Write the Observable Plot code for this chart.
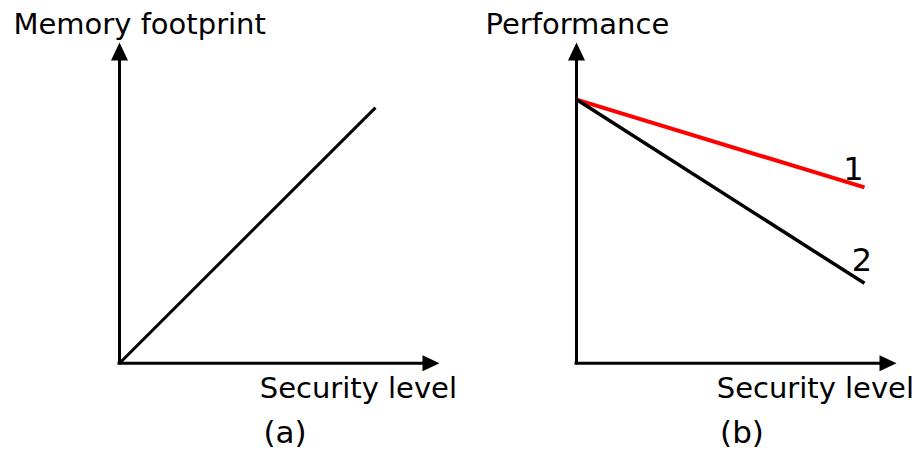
<!DOCTYPE html>
<html>
<head>
<meta charset="utf-8">
<script src="https://cdn.jsdelivr.net/npm/d3@7"></script>
<script src="https://cdn.jsdelivr.net/npm/@observablehq/plot@0.6"></script>
<style>
  html, body { margin: 0; padding: 0; background: #fff; }
</style>
</head>
<body>
<div id="chart"></div>
<script>
// ---- data ----
const panels = ["(a)", "(b)"];
const yTitles = ["Memory footprint", "Performance"];
const xTitle = "Security level";

// straight-line series (start and end values in abstract units 0..1)
const seriesPanel = ["(a)", "(b)", "(b)"];
const seriesName = ["", "1", "2"];
const seriesX0 = [0, 0, 0];
const seriesY0 = [0, 0.822, 0.822];
const seriesX1 = [0.80, 0.90, 0.90];
const seriesY1 = [0.797, 0.548, 0.249];
const seriesColor = ["black", "red", "black"];
const seriesWidth = [3, 4, 3.5];

// ---- build tables ----
const panelRows = panels.map((p, i) => ({panel: p, ytitle: yTitles[i]}));
const series = seriesPanel.map((p, i) => ({
  panel: p, name: seriesName[i], x0: seriesX0[i], y0: seriesY0[i],
  x1: seriesX1[i], y1: seriesY1[i], color: seriesColor[i], width: seriesWidth[i]
}));

const font = "DejaVu Sans";
const fs = 29;

// filled arrowheads as custom symbols (tip at anchor point)
const arrowUp = {draw(ctx) { ctx.moveTo(0, 0); ctx.lineTo(-8.5, 18); ctx.lineTo(8.5, 18); ctx.closePath(); }};
const arrowRight = {draw(ctx) { ctx.moveTo(0, 0); ctx.lineTo(-17, -8); ctx.lineTo(-17, 8); ctx.closePath(); }};

const chart = Plot.plot({
  width: 917,
  height: 458,
  marginLeft: 118,
  marginRight: 20,
  marginTop: 42,
  marginBottom: 95.3,
  style: {background: "white", color: "black"},
  fx: {domain: panels, paddingInner: 0.2991, paddingOuter: 0, axis: null},
  x: {domain: [0, 1], axis: null},
  y: {domain: [0, 1], axis: null},
  marks: [
    // axes
    Plot.ruleX(panelRows, {fx: "panel", x: 0, y1: 0, y2: 0.97, stroke: "black", strokeWidth: 3, strokeLinecap: "square"}),
    Plot.ruleY(panelRows, {fx: "panel", y: 0, x1: 0, x2: 0.97, stroke: "black", strokeWidth: 3, strokeLinecap: "square"}),
    Plot.dot(panelRows, {fx: "panel", x: 0, y: 1, symbol: arrowUp, fill: "black", stroke: "none"}),
    Plot.dot(panelRows, {fx: "panel", x: 1, y: 0, symbol: arrowRight, fill: "black", stroke: "none"}),
    // series lines
    Plot.link(series, {fx: "panel", x1: "x0", y1: "y0", x2: "x1", y2: "y1",
      stroke: d => d.color, strokeWidth: d => d.width}),
    // series labels
    Plot.text(series.filter(d => d.name === "1"), {fx: "panel", x: "x1", y: "y1", text: "name",
      fontFamily: font, fontSize: 32, lineAnchor: "bottom", dx: -11, dy: -7, fill: "black"}),
    Plot.text(series.filter(d => d.name === "2"), {fx: "panel", x: "x1", y: "y1", text: "name",
      fontFamily: font, fontSize: 32, lineAnchor: "bottom", dx: -2.5, dy: -12, fill: "black"}),
    // y titles
    Plot.text(panelRows.filter(d => d.panel === "(a)"), {fx: "panel", x: 0, y: 1, text: "ytitle",
      fontFamily: font, fontSize: fs, textAnchor: "start", lineAnchor: "bottom", dx: -106, dy: -9, fill: "black"}),
    Plot.text(panelRows.filter(d => d.panel === "(b)"), {fx: "panel", x: 0, y: 1, text: "ytitle",
      fontFamily: font, fontSize: fs, textAnchor: "start", lineAnchor: "bottom", dx: -91, dy: -9, fill: "black"}),
    // x titles
    Plot.text(panelRows, {fx: "panel", x: 1, y: 0, text: () => xTitle,
      fontFamily: font, fontSize: fs, textAnchor: "end", lineAnchor: "bottom", dx: 17.5, dy: 35, fill: "black"}),
    // panel captions
    Plot.text(panelRows, {fx: "panel", x: 0.5, y: 0, text: "panel",
      fontFamily: font, fontSize: 31, textAnchor: "middle", lineAnchor: "bottom", dx: 5.5, dy: 80, fill: "black"})
  ]
});

document.getElementById("chart").appendChild(chart);
</script>
</body>
</html>
